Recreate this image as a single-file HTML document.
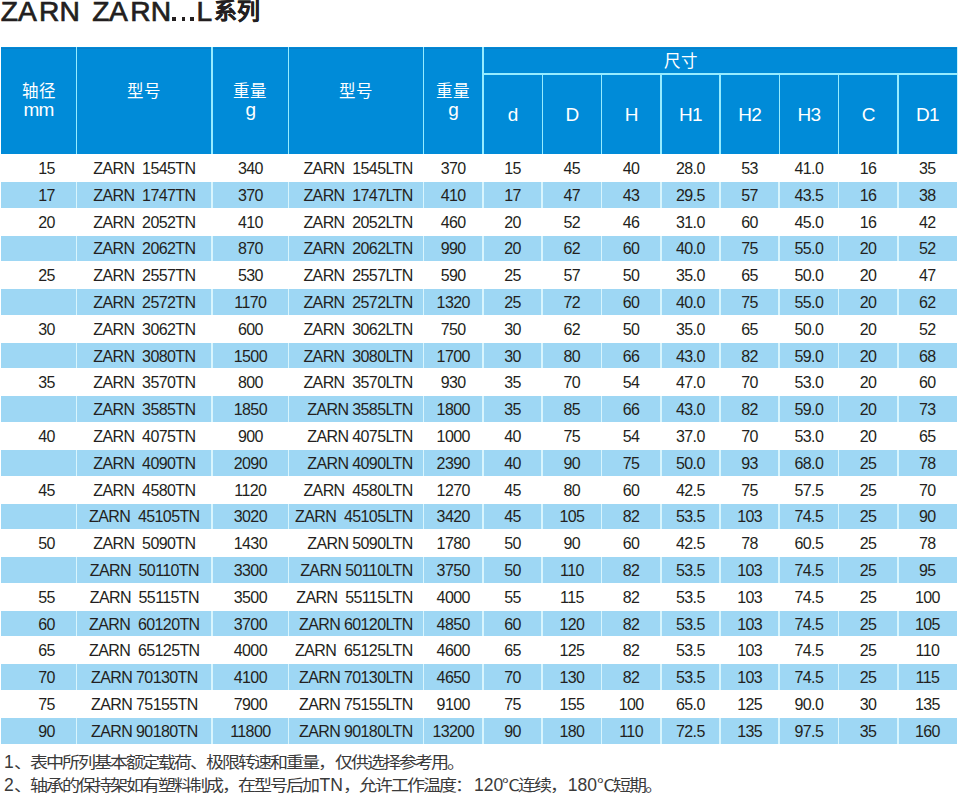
<!DOCTYPE html><html lang="zh-CN"><head><meta charset="utf-8"><style>
html,body{margin:0;padding:0;background:#fff;width:958px;height:793px;overflow:hidden;position:relative;}
*{box-sizing:border-box;}
div{position:absolute;}
.t{font-family:"Liberation Sans",sans-serif;white-space:pre;line-height:1;}
.d{font-size:16px;color:#231f20;letter-spacing:-0.6px;text-align:center;}
.h{font-size:19px;color:#fff;text-align:center;letter-spacing:-0.8px;}
.c{font-size:16.5px;color:#fff;text-align:center;}
</style></head><body>
<div class="t" style="left:0.8px;top:-3.5px;font-size:28.2px;color:#231f20;-webkit-text-stroke:0.7px #231f20;transform-origin:0 0;">Z</div>
<div class="t" style="left:18.0px;top:-3.5px;font-size:28.2px;color:#231f20;-webkit-text-stroke:0.7px #231f20;transform-origin:0 0;">A</div>
<div class="t" style="left:38.9px;top:-3.5px;font-size:28.2px;color:#231f20;-webkit-text-stroke:0.7px #231f20;transform-origin:0 0;">R</div>
<div class="t" style="left:59.4px;top:-3.5px;font-size:28.2px;color:#231f20;-webkit-text-stroke:0.7px #231f20;transform-origin:0 0;">N</div>
<div class="t" style="left:92.2px;top:-3.5px;font-size:28.2px;color:#231f20;-webkit-text-stroke:0.7px #231f20;transform-origin:0 0;">Z</div>
<div class="t" style="left:109.1px;top:-3.5px;font-size:28.2px;color:#231f20;-webkit-text-stroke:0.7px #231f20;transform-origin:0 0;">A</div>
<div class="t" style="left:130.2px;top:-3.5px;font-size:28.2px;color:#231f20;-webkit-text-stroke:0.7px #231f20;transform-origin:0 0;">R</div>
<div class="t" style="left:150.8px;top:-3.5px;font-size:28.2px;color:#231f20;-webkit-text-stroke:0.7px #231f20;transform-origin:0 0;">N</div>
<div style="left:172.3px;top:17.2px;width:3.7px;height:3.7px;background:#231f20"></div>
<div style="left:181.7px;top:17.2px;width:3.7px;height:3.7px;background:#231f20"></div>
<div style="left:190.0px;top:17.2px;width:3.7px;height:3.7px;background:#231f20"></div>
<div class="t" style="left:196.4px;top:-3.5px;font-size:28.2px;color:#231f20;-webkit-text-stroke:0.7px #231f20;transform-origin:0 0;">L</div>
<div class="t" style="left:213.8px;top:0.2px;font-size:23px;font-weight:bold;color:#231f20;-webkit-text-stroke:0.2px #231f20;">系列</div>
<div style="left:1.0px;top:47.3px;width:956.0px;height:106.7px;background:#008bd8"></div>
<div style="left:1.0px;top:48px;width:956.0px;height:1px;background:#0a7cc6"></div>
<div style="left:75.75px;top:47.3px;width:1.5px;height:106.7px;background:#96ecff"></div>
<div style="left:211.45px;top:47.3px;width:1.5px;height:106.7px;background:#96ecff"></div>
<div style="left:287.75px;top:47.3px;width:1.5px;height:106.7px;background:#96ecff"></div>
<div style="left:422.65px;top:47.3px;width:1.5px;height:106.7px;background:#96ecff"></div>
<div style="left:482.25px;top:47.3px;width:1.5px;height:106.7px;background:#96ecff"></div>
<div style="left:541.50px;top:73.8px;width:1.5px;height:80.2px;background:#96ecff"></div>
<div style="left:600.75px;top:73.8px;width:1.5px;height:80.2px;background:#96ecff"></div>
<div style="left:660.00px;top:73.8px;width:1.5px;height:80.2px;background:#96ecff"></div>
<div style="left:719.25px;top:73.8px;width:1.5px;height:80.2px;background:#96ecff"></div>
<div style="left:778.50px;top:73.8px;width:1.5px;height:80.2px;background:#96ecff"></div>
<div style="left:837.75px;top:73.8px;width:1.5px;height:80.2px;background:#96ecff"></div>
<div style="left:897.00px;top:73.8px;width:1.5px;height:80.2px;background:#96ecff"></div>
<div style="left:483.0px;top:73.0px;width:474.0px;height:1.5px;background:#96ecff"></div>
<div style="left:957px;top:47.3px;width:1px;height:106.7px;background:#c8f4ff"></div>
<div style="left:1.00px;top:182.00px;width:74.75px;height:25.60px;background:#9ed7f4"></div>
<div style="left:77.25px;top:182.00px;width:134.20px;height:25.60px;background:#9ed7f4"></div>
<div style="left:212.95px;top:182.00px;width:74.80px;height:25.60px;background:#9ed7f4"></div>
<div style="left:289.25px;top:182.00px;width:133.40px;height:25.60px;background:#9ed7f4"></div>
<div style="left:424.15px;top:182.00px;width:58.10px;height:25.60px;background:#9ed7f4"></div>
<div style="left:483.75px;top:182.00px;width:57.75px;height:25.60px;background:#9ed7f4"></div>
<div style="left:543.00px;top:182.00px;width:57.75px;height:25.60px;background:#9ed7f4"></div>
<div style="left:602.25px;top:182.00px;width:57.75px;height:25.60px;background:#9ed7f4"></div>
<div style="left:661.50px;top:182.00px;width:57.75px;height:25.60px;background:#9ed7f4"></div>
<div style="left:720.75px;top:182.00px;width:57.75px;height:25.60px;background:#9ed7f4"></div>
<div style="left:780.00px;top:182.00px;width:57.75px;height:25.60px;background:#9ed7f4"></div>
<div style="left:839.25px;top:182.00px;width:57.75px;height:25.60px;background:#9ed7f4"></div>
<div style="left:898.50px;top:182.00px;width:58.50px;height:25.60px;background:#9ed7f4"></div>
<div style="left:75.60px;top:182.00px;width:1.80px;height:25.60px;background:#d8f5fd"></div>
<div style="left:211.30px;top:182.00px;width:1.80px;height:25.60px;background:#d8f5fd"></div>
<div style="left:287.60px;top:182.00px;width:1.80px;height:25.60px;background:#d8f5fd"></div>
<div style="left:422.50px;top:182.00px;width:1.80px;height:25.60px;background:#d8f5fd"></div>
<div style="left:482.10px;top:182.00px;width:1.80px;height:25.60px;background:#d8f5fd"></div>
<div style="left:541.35px;top:182.00px;width:1.80px;height:25.60px;background:#d8f5fd"></div>
<div style="left:600.60px;top:182.00px;width:1.80px;height:25.60px;background:#d8f5fd"></div>
<div style="left:659.85px;top:182.00px;width:1.80px;height:25.60px;background:#d8f5fd"></div>
<div style="left:719.10px;top:182.00px;width:1.80px;height:25.60px;background:#d8f5fd"></div>
<div style="left:778.35px;top:182.00px;width:1.80px;height:25.60px;background:#d8f5fd"></div>
<div style="left:837.60px;top:182.00px;width:1.80px;height:25.60px;background:#d8f5fd"></div>
<div style="left:896.85px;top:182.00px;width:1.80px;height:25.60px;background:#d8f5fd"></div>
<div style="left:1.00px;top:235.60px;width:74.75px;height:25.60px;background:#9ed7f4"></div>
<div style="left:77.25px;top:235.60px;width:134.20px;height:25.60px;background:#9ed7f4"></div>
<div style="left:212.95px;top:235.60px;width:74.80px;height:25.60px;background:#9ed7f4"></div>
<div style="left:289.25px;top:235.60px;width:133.40px;height:25.60px;background:#9ed7f4"></div>
<div style="left:424.15px;top:235.60px;width:58.10px;height:25.60px;background:#9ed7f4"></div>
<div style="left:483.75px;top:235.60px;width:57.75px;height:25.60px;background:#9ed7f4"></div>
<div style="left:543.00px;top:235.60px;width:57.75px;height:25.60px;background:#9ed7f4"></div>
<div style="left:602.25px;top:235.60px;width:57.75px;height:25.60px;background:#9ed7f4"></div>
<div style="left:661.50px;top:235.60px;width:57.75px;height:25.60px;background:#9ed7f4"></div>
<div style="left:720.75px;top:235.60px;width:57.75px;height:25.60px;background:#9ed7f4"></div>
<div style="left:780.00px;top:235.60px;width:57.75px;height:25.60px;background:#9ed7f4"></div>
<div style="left:839.25px;top:235.60px;width:57.75px;height:25.60px;background:#9ed7f4"></div>
<div style="left:898.50px;top:235.60px;width:58.50px;height:25.60px;background:#9ed7f4"></div>
<div style="left:75.60px;top:235.60px;width:1.80px;height:25.60px;background:#d8f5fd"></div>
<div style="left:211.30px;top:235.60px;width:1.80px;height:25.60px;background:#d8f5fd"></div>
<div style="left:287.60px;top:235.60px;width:1.80px;height:25.60px;background:#d8f5fd"></div>
<div style="left:422.50px;top:235.60px;width:1.80px;height:25.60px;background:#d8f5fd"></div>
<div style="left:482.10px;top:235.60px;width:1.80px;height:25.60px;background:#d8f5fd"></div>
<div style="left:541.35px;top:235.60px;width:1.80px;height:25.60px;background:#d8f5fd"></div>
<div style="left:600.60px;top:235.60px;width:1.80px;height:25.60px;background:#d8f5fd"></div>
<div style="left:659.85px;top:235.60px;width:1.80px;height:25.60px;background:#d8f5fd"></div>
<div style="left:719.10px;top:235.60px;width:1.80px;height:25.60px;background:#d8f5fd"></div>
<div style="left:778.35px;top:235.60px;width:1.80px;height:25.60px;background:#d8f5fd"></div>
<div style="left:837.60px;top:235.60px;width:1.80px;height:25.60px;background:#d8f5fd"></div>
<div style="left:896.85px;top:235.60px;width:1.80px;height:25.60px;background:#d8f5fd"></div>
<div style="left:1.00px;top:289.20px;width:74.75px;height:25.60px;background:#9ed7f4"></div>
<div style="left:77.25px;top:289.20px;width:134.20px;height:25.60px;background:#9ed7f4"></div>
<div style="left:212.95px;top:289.20px;width:74.80px;height:25.60px;background:#9ed7f4"></div>
<div style="left:289.25px;top:289.20px;width:133.40px;height:25.60px;background:#9ed7f4"></div>
<div style="left:424.15px;top:289.20px;width:58.10px;height:25.60px;background:#9ed7f4"></div>
<div style="left:483.75px;top:289.20px;width:57.75px;height:25.60px;background:#9ed7f4"></div>
<div style="left:543.00px;top:289.20px;width:57.75px;height:25.60px;background:#9ed7f4"></div>
<div style="left:602.25px;top:289.20px;width:57.75px;height:25.60px;background:#9ed7f4"></div>
<div style="left:661.50px;top:289.20px;width:57.75px;height:25.60px;background:#9ed7f4"></div>
<div style="left:720.75px;top:289.20px;width:57.75px;height:25.60px;background:#9ed7f4"></div>
<div style="left:780.00px;top:289.20px;width:57.75px;height:25.60px;background:#9ed7f4"></div>
<div style="left:839.25px;top:289.20px;width:57.75px;height:25.60px;background:#9ed7f4"></div>
<div style="left:898.50px;top:289.20px;width:58.50px;height:25.60px;background:#9ed7f4"></div>
<div style="left:75.60px;top:289.20px;width:1.80px;height:25.60px;background:#d8f5fd"></div>
<div style="left:211.30px;top:289.20px;width:1.80px;height:25.60px;background:#d8f5fd"></div>
<div style="left:287.60px;top:289.20px;width:1.80px;height:25.60px;background:#d8f5fd"></div>
<div style="left:422.50px;top:289.20px;width:1.80px;height:25.60px;background:#d8f5fd"></div>
<div style="left:482.10px;top:289.20px;width:1.80px;height:25.60px;background:#d8f5fd"></div>
<div style="left:541.35px;top:289.20px;width:1.80px;height:25.60px;background:#d8f5fd"></div>
<div style="left:600.60px;top:289.20px;width:1.80px;height:25.60px;background:#d8f5fd"></div>
<div style="left:659.85px;top:289.20px;width:1.80px;height:25.60px;background:#d8f5fd"></div>
<div style="left:719.10px;top:289.20px;width:1.80px;height:25.60px;background:#d8f5fd"></div>
<div style="left:778.35px;top:289.20px;width:1.80px;height:25.60px;background:#d8f5fd"></div>
<div style="left:837.60px;top:289.20px;width:1.80px;height:25.60px;background:#d8f5fd"></div>
<div style="left:896.85px;top:289.20px;width:1.80px;height:25.60px;background:#d8f5fd"></div>
<div style="left:1.00px;top:342.80px;width:74.75px;height:25.60px;background:#9ed7f4"></div>
<div style="left:77.25px;top:342.80px;width:134.20px;height:25.60px;background:#9ed7f4"></div>
<div style="left:212.95px;top:342.80px;width:74.80px;height:25.60px;background:#9ed7f4"></div>
<div style="left:289.25px;top:342.80px;width:133.40px;height:25.60px;background:#9ed7f4"></div>
<div style="left:424.15px;top:342.80px;width:58.10px;height:25.60px;background:#9ed7f4"></div>
<div style="left:483.75px;top:342.80px;width:57.75px;height:25.60px;background:#9ed7f4"></div>
<div style="left:543.00px;top:342.80px;width:57.75px;height:25.60px;background:#9ed7f4"></div>
<div style="left:602.25px;top:342.80px;width:57.75px;height:25.60px;background:#9ed7f4"></div>
<div style="left:661.50px;top:342.80px;width:57.75px;height:25.60px;background:#9ed7f4"></div>
<div style="left:720.75px;top:342.80px;width:57.75px;height:25.60px;background:#9ed7f4"></div>
<div style="left:780.00px;top:342.80px;width:57.75px;height:25.60px;background:#9ed7f4"></div>
<div style="left:839.25px;top:342.80px;width:57.75px;height:25.60px;background:#9ed7f4"></div>
<div style="left:898.50px;top:342.80px;width:58.50px;height:25.60px;background:#9ed7f4"></div>
<div style="left:75.60px;top:342.80px;width:1.80px;height:25.60px;background:#d8f5fd"></div>
<div style="left:211.30px;top:342.80px;width:1.80px;height:25.60px;background:#d8f5fd"></div>
<div style="left:287.60px;top:342.80px;width:1.80px;height:25.60px;background:#d8f5fd"></div>
<div style="left:422.50px;top:342.80px;width:1.80px;height:25.60px;background:#d8f5fd"></div>
<div style="left:482.10px;top:342.80px;width:1.80px;height:25.60px;background:#d8f5fd"></div>
<div style="left:541.35px;top:342.80px;width:1.80px;height:25.60px;background:#d8f5fd"></div>
<div style="left:600.60px;top:342.80px;width:1.80px;height:25.60px;background:#d8f5fd"></div>
<div style="left:659.85px;top:342.80px;width:1.80px;height:25.60px;background:#d8f5fd"></div>
<div style="left:719.10px;top:342.80px;width:1.80px;height:25.60px;background:#d8f5fd"></div>
<div style="left:778.35px;top:342.80px;width:1.80px;height:25.60px;background:#d8f5fd"></div>
<div style="left:837.60px;top:342.80px;width:1.80px;height:25.60px;background:#d8f5fd"></div>
<div style="left:896.85px;top:342.80px;width:1.80px;height:25.60px;background:#d8f5fd"></div>
<div style="left:1.00px;top:396.40px;width:74.75px;height:25.60px;background:#9ed7f4"></div>
<div style="left:77.25px;top:396.40px;width:134.20px;height:25.60px;background:#9ed7f4"></div>
<div style="left:212.95px;top:396.40px;width:74.80px;height:25.60px;background:#9ed7f4"></div>
<div style="left:289.25px;top:396.40px;width:133.40px;height:25.60px;background:#9ed7f4"></div>
<div style="left:424.15px;top:396.40px;width:58.10px;height:25.60px;background:#9ed7f4"></div>
<div style="left:483.75px;top:396.40px;width:57.75px;height:25.60px;background:#9ed7f4"></div>
<div style="left:543.00px;top:396.40px;width:57.75px;height:25.60px;background:#9ed7f4"></div>
<div style="left:602.25px;top:396.40px;width:57.75px;height:25.60px;background:#9ed7f4"></div>
<div style="left:661.50px;top:396.40px;width:57.75px;height:25.60px;background:#9ed7f4"></div>
<div style="left:720.75px;top:396.40px;width:57.75px;height:25.60px;background:#9ed7f4"></div>
<div style="left:780.00px;top:396.40px;width:57.75px;height:25.60px;background:#9ed7f4"></div>
<div style="left:839.25px;top:396.40px;width:57.75px;height:25.60px;background:#9ed7f4"></div>
<div style="left:898.50px;top:396.40px;width:58.50px;height:25.60px;background:#9ed7f4"></div>
<div style="left:75.60px;top:396.40px;width:1.80px;height:25.60px;background:#d8f5fd"></div>
<div style="left:211.30px;top:396.40px;width:1.80px;height:25.60px;background:#d8f5fd"></div>
<div style="left:287.60px;top:396.40px;width:1.80px;height:25.60px;background:#d8f5fd"></div>
<div style="left:422.50px;top:396.40px;width:1.80px;height:25.60px;background:#d8f5fd"></div>
<div style="left:482.10px;top:396.40px;width:1.80px;height:25.60px;background:#d8f5fd"></div>
<div style="left:541.35px;top:396.40px;width:1.80px;height:25.60px;background:#d8f5fd"></div>
<div style="left:600.60px;top:396.40px;width:1.80px;height:25.60px;background:#d8f5fd"></div>
<div style="left:659.85px;top:396.40px;width:1.80px;height:25.60px;background:#d8f5fd"></div>
<div style="left:719.10px;top:396.40px;width:1.80px;height:25.60px;background:#d8f5fd"></div>
<div style="left:778.35px;top:396.40px;width:1.80px;height:25.60px;background:#d8f5fd"></div>
<div style="left:837.60px;top:396.40px;width:1.80px;height:25.60px;background:#d8f5fd"></div>
<div style="left:896.85px;top:396.40px;width:1.80px;height:25.60px;background:#d8f5fd"></div>
<div style="left:1.00px;top:450.00px;width:74.75px;height:25.60px;background:#9ed7f4"></div>
<div style="left:77.25px;top:450.00px;width:134.20px;height:25.60px;background:#9ed7f4"></div>
<div style="left:212.95px;top:450.00px;width:74.80px;height:25.60px;background:#9ed7f4"></div>
<div style="left:289.25px;top:450.00px;width:133.40px;height:25.60px;background:#9ed7f4"></div>
<div style="left:424.15px;top:450.00px;width:58.10px;height:25.60px;background:#9ed7f4"></div>
<div style="left:483.75px;top:450.00px;width:57.75px;height:25.60px;background:#9ed7f4"></div>
<div style="left:543.00px;top:450.00px;width:57.75px;height:25.60px;background:#9ed7f4"></div>
<div style="left:602.25px;top:450.00px;width:57.75px;height:25.60px;background:#9ed7f4"></div>
<div style="left:661.50px;top:450.00px;width:57.75px;height:25.60px;background:#9ed7f4"></div>
<div style="left:720.75px;top:450.00px;width:57.75px;height:25.60px;background:#9ed7f4"></div>
<div style="left:780.00px;top:450.00px;width:57.75px;height:25.60px;background:#9ed7f4"></div>
<div style="left:839.25px;top:450.00px;width:57.75px;height:25.60px;background:#9ed7f4"></div>
<div style="left:898.50px;top:450.00px;width:58.50px;height:25.60px;background:#9ed7f4"></div>
<div style="left:75.60px;top:450.00px;width:1.80px;height:25.60px;background:#d8f5fd"></div>
<div style="left:211.30px;top:450.00px;width:1.80px;height:25.60px;background:#d8f5fd"></div>
<div style="left:287.60px;top:450.00px;width:1.80px;height:25.60px;background:#d8f5fd"></div>
<div style="left:422.50px;top:450.00px;width:1.80px;height:25.60px;background:#d8f5fd"></div>
<div style="left:482.10px;top:450.00px;width:1.80px;height:25.60px;background:#d8f5fd"></div>
<div style="left:541.35px;top:450.00px;width:1.80px;height:25.60px;background:#d8f5fd"></div>
<div style="left:600.60px;top:450.00px;width:1.80px;height:25.60px;background:#d8f5fd"></div>
<div style="left:659.85px;top:450.00px;width:1.80px;height:25.60px;background:#d8f5fd"></div>
<div style="left:719.10px;top:450.00px;width:1.80px;height:25.60px;background:#d8f5fd"></div>
<div style="left:778.35px;top:450.00px;width:1.80px;height:25.60px;background:#d8f5fd"></div>
<div style="left:837.60px;top:450.00px;width:1.80px;height:25.60px;background:#d8f5fd"></div>
<div style="left:896.85px;top:450.00px;width:1.80px;height:25.60px;background:#d8f5fd"></div>
<div style="left:1.00px;top:503.60px;width:74.75px;height:25.60px;background:#9ed7f4"></div>
<div style="left:77.25px;top:503.60px;width:134.20px;height:25.60px;background:#9ed7f4"></div>
<div style="left:212.95px;top:503.60px;width:74.80px;height:25.60px;background:#9ed7f4"></div>
<div style="left:289.25px;top:503.60px;width:133.40px;height:25.60px;background:#9ed7f4"></div>
<div style="left:424.15px;top:503.60px;width:58.10px;height:25.60px;background:#9ed7f4"></div>
<div style="left:483.75px;top:503.60px;width:57.75px;height:25.60px;background:#9ed7f4"></div>
<div style="left:543.00px;top:503.60px;width:57.75px;height:25.60px;background:#9ed7f4"></div>
<div style="left:602.25px;top:503.60px;width:57.75px;height:25.60px;background:#9ed7f4"></div>
<div style="left:661.50px;top:503.60px;width:57.75px;height:25.60px;background:#9ed7f4"></div>
<div style="left:720.75px;top:503.60px;width:57.75px;height:25.60px;background:#9ed7f4"></div>
<div style="left:780.00px;top:503.60px;width:57.75px;height:25.60px;background:#9ed7f4"></div>
<div style="left:839.25px;top:503.60px;width:57.75px;height:25.60px;background:#9ed7f4"></div>
<div style="left:898.50px;top:503.60px;width:58.50px;height:25.60px;background:#9ed7f4"></div>
<div style="left:75.60px;top:503.60px;width:1.80px;height:25.60px;background:#d8f5fd"></div>
<div style="left:211.30px;top:503.60px;width:1.80px;height:25.60px;background:#d8f5fd"></div>
<div style="left:287.60px;top:503.60px;width:1.80px;height:25.60px;background:#d8f5fd"></div>
<div style="left:422.50px;top:503.60px;width:1.80px;height:25.60px;background:#d8f5fd"></div>
<div style="left:482.10px;top:503.60px;width:1.80px;height:25.60px;background:#d8f5fd"></div>
<div style="left:541.35px;top:503.60px;width:1.80px;height:25.60px;background:#d8f5fd"></div>
<div style="left:600.60px;top:503.60px;width:1.80px;height:25.60px;background:#d8f5fd"></div>
<div style="left:659.85px;top:503.60px;width:1.80px;height:25.60px;background:#d8f5fd"></div>
<div style="left:719.10px;top:503.60px;width:1.80px;height:25.60px;background:#d8f5fd"></div>
<div style="left:778.35px;top:503.60px;width:1.80px;height:25.60px;background:#d8f5fd"></div>
<div style="left:837.60px;top:503.60px;width:1.80px;height:25.60px;background:#d8f5fd"></div>
<div style="left:896.85px;top:503.60px;width:1.80px;height:25.60px;background:#d8f5fd"></div>
<div style="left:1.00px;top:557.20px;width:74.75px;height:25.60px;background:#9ed7f4"></div>
<div style="left:77.25px;top:557.20px;width:134.20px;height:25.60px;background:#9ed7f4"></div>
<div style="left:212.95px;top:557.20px;width:74.80px;height:25.60px;background:#9ed7f4"></div>
<div style="left:289.25px;top:557.20px;width:133.40px;height:25.60px;background:#9ed7f4"></div>
<div style="left:424.15px;top:557.20px;width:58.10px;height:25.60px;background:#9ed7f4"></div>
<div style="left:483.75px;top:557.20px;width:57.75px;height:25.60px;background:#9ed7f4"></div>
<div style="left:543.00px;top:557.20px;width:57.75px;height:25.60px;background:#9ed7f4"></div>
<div style="left:602.25px;top:557.20px;width:57.75px;height:25.60px;background:#9ed7f4"></div>
<div style="left:661.50px;top:557.20px;width:57.75px;height:25.60px;background:#9ed7f4"></div>
<div style="left:720.75px;top:557.20px;width:57.75px;height:25.60px;background:#9ed7f4"></div>
<div style="left:780.00px;top:557.20px;width:57.75px;height:25.60px;background:#9ed7f4"></div>
<div style="left:839.25px;top:557.20px;width:57.75px;height:25.60px;background:#9ed7f4"></div>
<div style="left:898.50px;top:557.20px;width:58.50px;height:25.60px;background:#9ed7f4"></div>
<div style="left:75.60px;top:557.20px;width:1.80px;height:25.60px;background:#d8f5fd"></div>
<div style="left:211.30px;top:557.20px;width:1.80px;height:25.60px;background:#d8f5fd"></div>
<div style="left:287.60px;top:557.20px;width:1.80px;height:25.60px;background:#d8f5fd"></div>
<div style="left:422.50px;top:557.20px;width:1.80px;height:25.60px;background:#d8f5fd"></div>
<div style="left:482.10px;top:557.20px;width:1.80px;height:25.60px;background:#d8f5fd"></div>
<div style="left:541.35px;top:557.20px;width:1.80px;height:25.60px;background:#d8f5fd"></div>
<div style="left:600.60px;top:557.20px;width:1.80px;height:25.60px;background:#d8f5fd"></div>
<div style="left:659.85px;top:557.20px;width:1.80px;height:25.60px;background:#d8f5fd"></div>
<div style="left:719.10px;top:557.20px;width:1.80px;height:25.60px;background:#d8f5fd"></div>
<div style="left:778.35px;top:557.20px;width:1.80px;height:25.60px;background:#d8f5fd"></div>
<div style="left:837.60px;top:557.20px;width:1.80px;height:25.60px;background:#d8f5fd"></div>
<div style="left:896.85px;top:557.20px;width:1.80px;height:25.60px;background:#d8f5fd"></div>
<div style="left:1.00px;top:610.80px;width:74.75px;height:25.60px;background:#9ed7f4"></div>
<div style="left:77.25px;top:610.80px;width:134.20px;height:25.60px;background:#9ed7f4"></div>
<div style="left:212.95px;top:610.80px;width:74.80px;height:25.60px;background:#9ed7f4"></div>
<div style="left:289.25px;top:610.80px;width:133.40px;height:25.60px;background:#9ed7f4"></div>
<div style="left:424.15px;top:610.80px;width:58.10px;height:25.60px;background:#9ed7f4"></div>
<div style="left:483.75px;top:610.80px;width:57.75px;height:25.60px;background:#9ed7f4"></div>
<div style="left:543.00px;top:610.80px;width:57.75px;height:25.60px;background:#9ed7f4"></div>
<div style="left:602.25px;top:610.80px;width:57.75px;height:25.60px;background:#9ed7f4"></div>
<div style="left:661.50px;top:610.80px;width:57.75px;height:25.60px;background:#9ed7f4"></div>
<div style="left:720.75px;top:610.80px;width:57.75px;height:25.60px;background:#9ed7f4"></div>
<div style="left:780.00px;top:610.80px;width:57.75px;height:25.60px;background:#9ed7f4"></div>
<div style="left:839.25px;top:610.80px;width:57.75px;height:25.60px;background:#9ed7f4"></div>
<div style="left:898.50px;top:610.80px;width:58.50px;height:25.60px;background:#9ed7f4"></div>
<div style="left:75.60px;top:610.80px;width:1.80px;height:25.60px;background:#d8f5fd"></div>
<div style="left:211.30px;top:610.80px;width:1.80px;height:25.60px;background:#d8f5fd"></div>
<div style="left:287.60px;top:610.80px;width:1.80px;height:25.60px;background:#d8f5fd"></div>
<div style="left:422.50px;top:610.80px;width:1.80px;height:25.60px;background:#d8f5fd"></div>
<div style="left:482.10px;top:610.80px;width:1.80px;height:25.60px;background:#d8f5fd"></div>
<div style="left:541.35px;top:610.80px;width:1.80px;height:25.60px;background:#d8f5fd"></div>
<div style="left:600.60px;top:610.80px;width:1.80px;height:25.60px;background:#d8f5fd"></div>
<div style="left:659.85px;top:610.80px;width:1.80px;height:25.60px;background:#d8f5fd"></div>
<div style="left:719.10px;top:610.80px;width:1.80px;height:25.60px;background:#d8f5fd"></div>
<div style="left:778.35px;top:610.80px;width:1.80px;height:25.60px;background:#d8f5fd"></div>
<div style="left:837.60px;top:610.80px;width:1.80px;height:25.60px;background:#d8f5fd"></div>
<div style="left:896.85px;top:610.80px;width:1.80px;height:25.60px;background:#d8f5fd"></div>
<div style="left:1.00px;top:664.40px;width:74.75px;height:25.60px;background:#9ed7f4"></div>
<div style="left:77.25px;top:664.40px;width:134.20px;height:25.60px;background:#9ed7f4"></div>
<div style="left:212.95px;top:664.40px;width:74.80px;height:25.60px;background:#9ed7f4"></div>
<div style="left:289.25px;top:664.40px;width:133.40px;height:25.60px;background:#9ed7f4"></div>
<div style="left:424.15px;top:664.40px;width:58.10px;height:25.60px;background:#9ed7f4"></div>
<div style="left:483.75px;top:664.40px;width:57.75px;height:25.60px;background:#9ed7f4"></div>
<div style="left:543.00px;top:664.40px;width:57.75px;height:25.60px;background:#9ed7f4"></div>
<div style="left:602.25px;top:664.40px;width:57.75px;height:25.60px;background:#9ed7f4"></div>
<div style="left:661.50px;top:664.40px;width:57.75px;height:25.60px;background:#9ed7f4"></div>
<div style="left:720.75px;top:664.40px;width:57.75px;height:25.60px;background:#9ed7f4"></div>
<div style="left:780.00px;top:664.40px;width:57.75px;height:25.60px;background:#9ed7f4"></div>
<div style="left:839.25px;top:664.40px;width:57.75px;height:25.60px;background:#9ed7f4"></div>
<div style="left:898.50px;top:664.40px;width:58.50px;height:25.60px;background:#9ed7f4"></div>
<div style="left:75.60px;top:664.40px;width:1.80px;height:25.60px;background:#d8f5fd"></div>
<div style="left:211.30px;top:664.40px;width:1.80px;height:25.60px;background:#d8f5fd"></div>
<div style="left:287.60px;top:664.40px;width:1.80px;height:25.60px;background:#d8f5fd"></div>
<div style="left:422.50px;top:664.40px;width:1.80px;height:25.60px;background:#d8f5fd"></div>
<div style="left:482.10px;top:664.40px;width:1.80px;height:25.60px;background:#d8f5fd"></div>
<div style="left:541.35px;top:664.40px;width:1.80px;height:25.60px;background:#d8f5fd"></div>
<div style="left:600.60px;top:664.40px;width:1.80px;height:25.60px;background:#d8f5fd"></div>
<div style="left:659.85px;top:664.40px;width:1.80px;height:25.60px;background:#d8f5fd"></div>
<div style="left:719.10px;top:664.40px;width:1.80px;height:25.60px;background:#d8f5fd"></div>
<div style="left:778.35px;top:664.40px;width:1.80px;height:25.60px;background:#d8f5fd"></div>
<div style="left:837.60px;top:664.40px;width:1.80px;height:25.60px;background:#d8f5fd"></div>
<div style="left:896.85px;top:664.40px;width:1.80px;height:25.60px;background:#d8f5fd"></div>
<div style="left:1.00px;top:718.00px;width:74.75px;height:25.60px;background:#9ed7f4"></div>
<div style="left:77.25px;top:718.00px;width:134.20px;height:25.60px;background:#9ed7f4"></div>
<div style="left:212.95px;top:718.00px;width:74.80px;height:25.60px;background:#9ed7f4"></div>
<div style="left:289.25px;top:718.00px;width:133.40px;height:25.60px;background:#9ed7f4"></div>
<div style="left:424.15px;top:718.00px;width:58.10px;height:25.60px;background:#9ed7f4"></div>
<div style="left:483.75px;top:718.00px;width:57.75px;height:25.60px;background:#9ed7f4"></div>
<div style="left:543.00px;top:718.00px;width:57.75px;height:25.60px;background:#9ed7f4"></div>
<div style="left:602.25px;top:718.00px;width:57.75px;height:25.60px;background:#9ed7f4"></div>
<div style="left:661.50px;top:718.00px;width:57.75px;height:25.60px;background:#9ed7f4"></div>
<div style="left:720.75px;top:718.00px;width:57.75px;height:25.60px;background:#9ed7f4"></div>
<div style="left:780.00px;top:718.00px;width:57.75px;height:25.60px;background:#9ed7f4"></div>
<div style="left:839.25px;top:718.00px;width:57.75px;height:25.60px;background:#9ed7f4"></div>
<div style="left:898.50px;top:718.00px;width:58.50px;height:25.60px;background:#9ed7f4"></div>
<div style="left:75.60px;top:718.00px;width:1.80px;height:25.60px;background:#d8f5fd"></div>
<div style="left:211.30px;top:718.00px;width:1.80px;height:25.60px;background:#d8f5fd"></div>
<div style="left:287.60px;top:718.00px;width:1.80px;height:25.60px;background:#d8f5fd"></div>
<div style="left:422.50px;top:718.00px;width:1.80px;height:25.60px;background:#d8f5fd"></div>
<div style="left:482.10px;top:718.00px;width:1.80px;height:25.60px;background:#d8f5fd"></div>
<div style="left:541.35px;top:718.00px;width:1.80px;height:25.60px;background:#d8f5fd"></div>
<div style="left:600.60px;top:718.00px;width:1.80px;height:25.60px;background:#d8f5fd"></div>
<div style="left:659.85px;top:718.00px;width:1.80px;height:25.60px;background:#d8f5fd"></div>
<div style="left:719.10px;top:718.00px;width:1.80px;height:25.60px;background:#d8f5fd"></div>
<div style="left:778.35px;top:718.00px;width:1.80px;height:25.60px;background:#d8f5fd"></div>
<div style="left:837.60px;top:718.00px;width:1.80px;height:25.60px;background:#d8f5fd"></div>
<div style="left:896.85px;top:718.00px;width:1.80px;height:25.60px;background:#d8f5fd"></div>
<div class="t c" style="left:38.50px;top:82.50px;width:200px;margin-left:-100px;">轴径</div>
<div class="t h" style="left:38.50px;top:100.30px;width:200px;margin-left:-100px;">mm</div>
<div class="t c" style="left:144.35px;top:82.50px;width:200px;margin-left:-100px;">型号</div>
<div class="t c" style="left:250.35px;top:82.50px;width:200px;margin-left:-100px;">重量</div>
<div class="t h" style="left:250.35px;top:100.00px;width:200px;margin-left:-100px;">g</div>
<div class="t c" style="left:355.95px;top:82.50px;width:200px;margin-left:-100px;">型号</div>
<div class="t c" style="left:453.20px;top:82.50px;width:200px;margin-left:-100px;">重量</div>
<div class="t h" style="left:453.20px;top:100.00px;width:200px;margin-left:-100px;">g</div>
<div class="t c" style="left:681.00px;top:53.00px;width:200px;margin-left:-100px;">尺寸</div>
<div class="t h" style="left:512.62px;top:105.00px;width:200px;margin-left:-100px;">d</div>
<div class="t h" style="left:571.88px;top:105.00px;width:200px;margin-left:-100px;">D</div>
<div class="t h" style="left:631.12px;top:105.00px;width:200px;margin-left:-100px;">H</div>
<div class="t h" style="left:690.38px;top:105.00px;width:200px;margin-left:-100px;">H1</div>
<div class="t h" style="left:749.62px;top:105.00px;width:200px;margin-left:-100px;">H2</div>
<div class="t h" style="left:808.88px;top:105.00px;width:200px;margin-left:-100px;">H3</div>
<div class="t h" style="left:868.12px;top:105.00px;width:200px;margin-left:-100px;">C</div>
<div class="t h" style="left:927.38px;top:105.00px;width:200px;margin-left:-100px;">D1</div>
<div class="t d" style="left:46.50px;top:161.00px;width:200px;margin-left:-100px;">15</div>
<div class="t d" style="left:144.35px;top:161.00px;width:200px;margin-left:-100px;">ZARN  1545TN</div>
<div class="t d" style="left:250.35px;top:161.00px;width:200px;margin-left:-100px;">340</div>
<div class="t d" style="left:212.7px;top:161.00px;width:200px;text-align:right">ZARN  1545LTN</div>
<div class="t d" style="left:453.20px;top:161.00px;width:200px;margin-left:-100px;">370</div>
<div class="t d" style="left:512.62px;top:161.00px;width:200px;margin-left:-100px;">15</div>
<div class="t d" style="left:571.88px;top:161.00px;width:200px;margin-left:-100px;">45</div>
<div class="t d" style="left:631.12px;top:161.00px;width:200px;margin-left:-100px;">40</div>
<div class="t d" style="left:690.38px;top:161.00px;width:200px;margin-left:-100px;">28.0</div>
<div class="t d" style="left:749.62px;top:161.00px;width:200px;margin-left:-100px;">53</div>
<div class="t d" style="left:808.88px;top:161.00px;width:200px;margin-left:-100px;">41.0</div>
<div class="t d" style="left:868.12px;top:161.00px;width:200px;margin-left:-100px;">16</div>
<div class="t d" style="left:927.38px;top:161.00px;width:200px;margin-left:-100px;">35</div>
<div class="t d" style="left:46.50px;top:187.80px;width:200px;margin-left:-100px;">17</div>
<div class="t d" style="left:144.35px;top:187.80px;width:200px;margin-left:-100px;">ZARN  1747TN</div>
<div class="t d" style="left:250.35px;top:187.80px;width:200px;margin-left:-100px;">370</div>
<div class="t d" style="left:212.7px;top:187.80px;width:200px;text-align:right">ZARN  1747LTN</div>
<div class="t d" style="left:453.20px;top:187.80px;width:200px;margin-left:-100px;">410</div>
<div class="t d" style="left:512.62px;top:187.80px;width:200px;margin-left:-100px;">17</div>
<div class="t d" style="left:571.88px;top:187.80px;width:200px;margin-left:-100px;">47</div>
<div class="t d" style="left:631.12px;top:187.80px;width:200px;margin-left:-100px;">43</div>
<div class="t d" style="left:690.38px;top:187.80px;width:200px;margin-left:-100px;">29.5</div>
<div class="t d" style="left:749.62px;top:187.80px;width:200px;margin-left:-100px;">57</div>
<div class="t d" style="left:808.88px;top:187.80px;width:200px;margin-left:-100px;">43.5</div>
<div class="t d" style="left:868.12px;top:187.80px;width:200px;margin-left:-100px;">16</div>
<div class="t d" style="left:927.38px;top:187.80px;width:200px;margin-left:-100px;">38</div>
<div class="t d" style="left:46.50px;top:214.60px;width:200px;margin-left:-100px;">20</div>
<div class="t d" style="left:144.35px;top:214.60px;width:200px;margin-left:-100px;">ZARN  2052TN</div>
<div class="t d" style="left:250.35px;top:214.60px;width:200px;margin-left:-100px;">410</div>
<div class="t d" style="left:212.7px;top:214.60px;width:200px;text-align:right">ZARN  2052LTN</div>
<div class="t d" style="left:453.20px;top:214.60px;width:200px;margin-left:-100px;">460</div>
<div class="t d" style="left:512.62px;top:214.60px;width:200px;margin-left:-100px;">20</div>
<div class="t d" style="left:571.88px;top:214.60px;width:200px;margin-left:-100px;">52</div>
<div class="t d" style="left:631.12px;top:214.60px;width:200px;margin-left:-100px;">46</div>
<div class="t d" style="left:690.38px;top:214.60px;width:200px;margin-left:-100px;">31.0</div>
<div class="t d" style="left:749.62px;top:214.60px;width:200px;margin-left:-100px;">60</div>
<div class="t d" style="left:808.88px;top:214.60px;width:200px;margin-left:-100px;">45.0</div>
<div class="t d" style="left:868.12px;top:214.60px;width:200px;margin-left:-100px;">16</div>
<div class="t d" style="left:927.38px;top:214.60px;width:200px;margin-left:-100px;">42</div>
<div class="t d" style="left:144.35px;top:241.40px;width:200px;margin-left:-100px;">ZARN  2062TN</div>
<div class="t d" style="left:250.35px;top:241.40px;width:200px;margin-left:-100px;">870</div>
<div class="t d" style="left:212.7px;top:241.40px;width:200px;text-align:right">ZARN  2062LTN</div>
<div class="t d" style="left:453.20px;top:241.40px;width:200px;margin-left:-100px;">990</div>
<div class="t d" style="left:512.62px;top:241.40px;width:200px;margin-left:-100px;">20</div>
<div class="t d" style="left:571.88px;top:241.40px;width:200px;margin-left:-100px;">62</div>
<div class="t d" style="left:631.12px;top:241.40px;width:200px;margin-left:-100px;">60</div>
<div class="t d" style="left:690.38px;top:241.40px;width:200px;margin-left:-100px;">40.0</div>
<div class="t d" style="left:749.62px;top:241.40px;width:200px;margin-left:-100px;">75</div>
<div class="t d" style="left:808.88px;top:241.40px;width:200px;margin-left:-100px;">55.0</div>
<div class="t d" style="left:868.12px;top:241.40px;width:200px;margin-left:-100px;">20</div>
<div class="t d" style="left:927.38px;top:241.40px;width:200px;margin-left:-100px;">52</div>
<div class="t d" style="left:46.50px;top:268.20px;width:200px;margin-left:-100px;">25</div>
<div class="t d" style="left:144.35px;top:268.20px;width:200px;margin-left:-100px;">ZARN  2557TN</div>
<div class="t d" style="left:250.35px;top:268.20px;width:200px;margin-left:-100px;">530</div>
<div class="t d" style="left:212.7px;top:268.20px;width:200px;text-align:right">ZARN  2557LTN</div>
<div class="t d" style="left:453.20px;top:268.20px;width:200px;margin-left:-100px;">590</div>
<div class="t d" style="left:512.62px;top:268.20px;width:200px;margin-left:-100px;">25</div>
<div class="t d" style="left:571.88px;top:268.20px;width:200px;margin-left:-100px;">57</div>
<div class="t d" style="left:631.12px;top:268.20px;width:200px;margin-left:-100px;">50</div>
<div class="t d" style="left:690.38px;top:268.20px;width:200px;margin-left:-100px;">35.0</div>
<div class="t d" style="left:749.62px;top:268.20px;width:200px;margin-left:-100px;">65</div>
<div class="t d" style="left:808.88px;top:268.20px;width:200px;margin-left:-100px;">50.0</div>
<div class="t d" style="left:868.12px;top:268.20px;width:200px;margin-left:-100px;">20</div>
<div class="t d" style="left:927.38px;top:268.20px;width:200px;margin-left:-100px;">47</div>
<div class="t d" style="left:144.35px;top:295.00px;width:200px;margin-left:-100px;">ZARN  2572TN</div>
<div class="t d" style="left:250.35px;top:295.00px;width:200px;margin-left:-100px;">1170</div>
<div class="t d" style="left:212.7px;top:295.00px;width:200px;text-align:right">ZARN  2572LTN</div>
<div class="t d" style="left:453.20px;top:295.00px;width:200px;margin-left:-100px;">1320</div>
<div class="t d" style="left:512.62px;top:295.00px;width:200px;margin-left:-100px;">25</div>
<div class="t d" style="left:571.88px;top:295.00px;width:200px;margin-left:-100px;">72</div>
<div class="t d" style="left:631.12px;top:295.00px;width:200px;margin-left:-100px;">60</div>
<div class="t d" style="left:690.38px;top:295.00px;width:200px;margin-left:-100px;">40.0</div>
<div class="t d" style="left:749.62px;top:295.00px;width:200px;margin-left:-100px;">75</div>
<div class="t d" style="left:808.88px;top:295.00px;width:200px;margin-left:-100px;">55.0</div>
<div class="t d" style="left:868.12px;top:295.00px;width:200px;margin-left:-100px;">20</div>
<div class="t d" style="left:927.38px;top:295.00px;width:200px;margin-left:-100px;">62</div>
<div class="t d" style="left:46.50px;top:321.80px;width:200px;margin-left:-100px;">30</div>
<div class="t d" style="left:144.35px;top:321.80px;width:200px;margin-left:-100px;">ZARN  3062TN</div>
<div class="t d" style="left:250.35px;top:321.80px;width:200px;margin-left:-100px;">600</div>
<div class="t d" style="left:212.7px;top:321.80px;width:200px;text-align:right">ZARN  3062LTN</div>
<div class="t d" style="left:453.20px;top:321.80px;width:200px;margin-left:-100px;">750</div>
<div class="t d" style="left:512.62px;top:321.80px;width:200px;margin-left:-100px;">30</div>
<div class="t d" style="left:571.88px;top:321.80px;width:200px;margin-left:-100px;">62</div>
<div class="t d" style="left:631.12px;top:321.80px;width:200px;margin-left:-100px;">50</div>
<div class="t d" style="left:690.38px;top:321.80px;width:200px;margin-left:-100px;">35.0</div>
<div class="t d" style="left:749.62px;top:321.80px;width:200px;margin-left:-100px;">65</div>
<div class="t d" style="left:808.88px;top:321.80px;width:200px;margin-left:-100px;">50.0</div>
<div class="t d" style="left:868.12px;top:321.80px;width:200px;margin-left:-100px;">20</div>
<div class="t d" style="left:927.38px;top:321.80px;width:200px;margin-left:-100px;">52</div>
<div class="t d" style="left:144.35px;top:348.60px;width:200px;margin-left:-100px;">ZARN  3080TN</div>
<div class="t d" style="left:250.35px;top:348.60px;width:200px;margin-left:-100px;">1500</div>
<div class="t d" style="left:212.7px;top:348.60px;width:200px;text-align:right">ZARN  3080LTN</div>
<div class="t d" style="left:453.20px;top:348.60px;width:200px;margin-left:-100px;">1700</div>
<div class="t d" style="left:512.62px;top:348.60px;width:200px;margin-left:-100px;">30</div>
<div class="t d" style="left:571.88px;top:348.60px;width:200px;margin-left:-100px;">80</div>
<div class="t d" style="left:631.12px;top:348.60px;width:200px;margin-left:-100px;">66</div>
<div class="t d" style="left:690.38px;top:348.60px;width:200px;margin-left:-100px;">43.0</div>
<div class="t d" style="left:749.62px;top:348.60px;width:200px;margin-left:-100px;">82</div>
<div class="t d" style="left:808.88px;top:348.60px;width:200px;margin-left:-100px;">59.0</div>
<div class="t d" style="left:868.12px;top:348.60px;width:200px;margin-left:-100px;">20</div>
<div class="t d" style="left:927.38px;top:348.60px;width:200px;margin-left:-100px;">68</div>
<div class="t d" style="left:46.50px;top:375.40px;width:200px;margin-left:-100px;">35</div>
<div class="t d" style="left:144.35px;top:375.40px;width:200px;margin-left:-100px;">ZARN  3570TN</div>
<div class="t d" style="left:250.35px;top:375.40px;width:200px;margin-left:-100px;">800</div>
<div class="t d" style="left:212.7px;top:375.40px;width:200px;text-align:right">ZARN  3570LTN</div>
<div class="t d" style="left:453.20px;top:375.40px;width:200px;margin-left:-100px;">930</div>
<div class="t d" style="left:512.62px;top:375.40px;width:200px;margin-left:-100px;">35</div>
<div class="t d" style="left:571.88px;top:375.40px;width:200px;margin-left:-100px;">70</div>
<div class="t d" style="left:631.12px;top:375.40px;width:200px;margin-left:-100px;">54</div>
<div class="t d" style="left:690.38px;top:375.40px;width:200px;margin-left:-100px;">47.0</div>
<div class="t d" style="left:749.62px;top:375.40px;width:200px;margin-left:-100px;">70</div>
<div class="t d" style="left:808.88px;top:375.40px;width:200px;margin-left:-100px;">53.0</div>
<div class="t d" style="left:868.12px;top:375.40px;width:200px;margin-left:-100px;">20</div>
<div class="t d" style="left:927.38px;top:375.40px;width:200px;margin-left:-100px;">60</div>
<div class="t d" style="left:144.35px;top:402.20px;width:200px;margin-left:-100px;">ZARN  3585TN</div>
<div class="t d" style="left:250.35px;top:402.20px;width:200px;margin-left:-100px;">1850</div>
<div class="t d" style="left:212.7px;top:402.20px;width:200px;text-align:right">ZARN 3585LTN</div>
<div class="t d" style="left:453.20px;top:402.20px;width:200px;margin-left:-100px;">1800</div>
<div class="t d" style="left:512.62px;top:402.20px;width:200px;margin-left:-100px;">35</div>
<div class="t d" style="left:571.88px;top:402.20px;width:200px;margin-left:-100px;">85</div>
<div class="t d" style="left:631.12px;top:402.20px;width:200px;margin-left:-100px;">66</div>
<div class="t d" style="left:690.38px;top:402.20px;width:200px;margin-left:-100px;">43.0</div>
<div class="t d" style="left:749.62px;top:402.20px;width:200px;margin-left:-100px;">82</div>
<div class="t d" style="left:808.88px;top:402.20px;width:200px;margin-left:-100px;">59.0</div>
<div class="t d" style="left:868.12px;top:402.20px;width:200px;margin-left:-100px;">20</div>
<div class="t d" style="left:927.38px;top:402.20px;width:200px;margin-left:-100px;">73</div>
<div class="t d" style="left:46.50px;top:429.00px;width:200px;margin-left:-100px;">40</div>
<div class="t d" style="left:144.35px;top:429.00px;width:200px;margin-left:-100px;">ZARN  4075TN</div>
<div class="t d" style="left:250.35px;top:429.00px;width:200px;margin-left:-100px;">900</div>
<div class="t d" style="left:212.7px;top:429.00px;width:200px;text-align:right">ZARN 4075LTN</div>
<div class="t d" style="left:453.20px;top:429.00px;width:200px;margin-left:-100px;">1000</div>
<div class="t d" style="left:512.62px;top:429.00px;width:200px;margin-left:-100px;">40</div>
<div class="t d" style="left:571.88px;top:429.00px;width:200px;margin-left:-100px;">75</div>
<div class="t d" style="left:631.12px;top:429.00px;width:200px;margin-left:-100px;">54</div>
<div class="t d" style="left:690.38px;top:429.00px;width:200px;margin-left:-100px;">37.0</div>
<div class="t d" style="left:749.62px;top:429.00px;width:200px;margin-left:-100px;">70</div>
<div class="t d" style="left:808.88px;top:429.00px;width:200px;margin-left:-100px;">53.0</div>
<div class="t d" style="left:868.12px;top:429.00px;width:200px;margin-left:-100px;">20</div>
<div class="t d" style="left:927.38px;top:429.00px;width:200px;margin-left:-100px;">65</div>
<div class="t d" style="left:144.35px;top:455.80px;width:200px;margin-left:-100px;">ZARN  4090TN</div>
<div class="t d" style="left:250.35px;top:455.80px;width:200px;margin-left:-100px;">2090</div>
<div class="t d" style="left:212.7px;top:455.80px;width:200px;text-align:right">ZARN 4090LTN</div>
<div class="t d" style="left:453.20px;top:455.80px;width:200px;margin-left:-100px;">2390</div>
<div class="t d" style="left:512.62px;top:455.80px;width:200px;margin-left:-100px;">40</div>
<div class="t d" style="left:571.88px;top:455.80px;width:200px;margin-left:-100px;">90</div>
<div class="t d" style="left:631.12px;top:455.80px;width:200px;margin-left:-100px;">75</div>
<div class="t d" style="left:690.38px;top:455.80px;width:200px;margin-left:-100px;">50.0</div>
<div class="t d" style="left:749.62px;top:455.80px;width:200px;margin-left:-100px;">93</div>
<div class="t d" style="left:808.88px;top:455.80px;width:200px;margin-left:-100px;">68.0</div>
<div class="t d" style="left:868.12px;top:455.80px;width:200px;margin-left:-100px;">25</div>
<div class="t d" style="left:927.38px;top:455.80px;width:200px;margin-left:-100px;">78</div>
<div class="t d" style="left:46.50px;top:482.60px;width:200px;margin-left:-100px;">45</div>
<div class="t d" style="left:144.35px;top:482.60px;width:200px;margin-left:-100px;">ZARN  4580TN</div>
<div class="t d" style="left:250.35px;top:482.60px;width:200px;margin-left:-100px;">1120</div>
<div class="t d" style="left:212.7px;top:482.60px;width:200px;text-align:right">ZARN  4580LTN</div>
<div class="t d" style="left:453.20px;top:482.60px;width:200px;margin-left:-100px;">1270</div>
<div class="t d" style="left:512.62px;top:482.60px;width:200px;margin-left:-100px;">45</div>
<div class="t d" style="left:571.88px;top:482.60px;width:200px;margin-left:-100px;">80</div>
<div class="t d" style="left:631.12px;top:482.60px;width:200px;margin-left:-100px;">60</div>
<div class="t d" style="left:690.38px;top:482.60px;width:200px;margin-left:-100px;">42.5</div>
<div class="t d" style="left:749.62px;top:482.60px;width:200px;margin-left:-100px;">75</div>
<div class="t d" style="left:808.88px;top:482.60px;width:200px;margin-left:-100px;">57.5</div>
<div class="t d" style="left:868.12px;top:482.60px;width:200px;margin-left:-100px;">25</div>
<div class="t d" style="left:927.38px;top:482.60px;width:200px;margin-left:-100px;">70</div>
<div class="t d" style="left:144.35px;top:509.40px;width:200px;margin-left:-100px;">ZARN  45105TN</div>
<div class="t d" style="left:250.35px;top:509.40px;width:200px;margin-left:-100px;">3020</div>
<div class="t d" style="left:212.7px;top:509.40px;width:200px;text-align:right">ZARN  45105LTN</div>
<div class="t d" style="left:453.20px;top:509.40px;width:200px;margin-left:-100px;">3420</div>
<div class="t d" style="left:512.62px;top:509.40px;width:200px;margin-left:-100px;">45</div>
<div class="t d" style="left:571.88px;top:509.40px;width:200px;margin-left:-100px;">105</div>
<div class="t d" style="left:631.12px;top:509.40px;width:200px;margin-left:-100px;">82</div>
<div class="t d" style="left:690.38px;top:509.40px;width:200px;margin-left:-100px;">53.5</div>
<div class="t d" style="left:749.62px;top:509.40px;width:200px;margin-left:-100px;">103</div>
<div class="t d" style="left:808.88px;top:509.40px;width:200px;margin-left:-100px;">74.5</div>
<div class="t d" style="left:868.12px;top:509.40px;width:200px;margin-left:-100px;">25</div>
<div class="t d" style="left:927.38px;top:509.40px;width:200px;margin-left:-100px;">90</div>
<div class="t d" style="left:46.50px;top:536.20px;width:200px;margin-left:-100px;">50</div>
<div class="t d" style="left:144.35px;top:536.20px;width:200px;margin-left:-100px;">ZARN  5090TN</div>
<div class="t d" style="left:250.35px;top:536.20px;width:200px;margin-left:-100px;">1430</div>
<div class="t d" style="left:212.7px;top:536.20px;width:200px;text-align:right">ZARN 5090LTN</div>
<div class="t d" style="left:453.20px;top:536.20px;width:200px;margin-left:-100px;">1780</div>
<div class="t d" style="left:512.62px;top:536.20px;width:200px;margin-left:-100px;">50</div>
<div class="t d" style="left:571.88px;top:536.20px;width:200px;margin-left:-100px;">90</div>
<div class="t d" style="left:631.12px;top:536.20px;width:200px;margin-left:-100px;">60</div>
<div class="t d" style="left:690.38px;top:536.20px;width:200px;margin-left:-100px;">42.5</div>
<div class="t d" style="left:749.62px;top:536.20px;width:200px;margin-left:-100px;">78</div>
<div class="t d" style="left:808.88px;top:536.20px;width:200px;margin-left:-100px;">60.5</div>
<div class="t d" style="left:868.12px;top:536.20px;width:200px;margin-left:-100px;">25</div>
<div class="t d" style="left:927.38px;top:536.20px;width:200px;margin-left:-100px;">78</div>
<div class="t d" style="left:144.35px;top:563.00px;width:200px;margin-left:-100px;">ZARN  50110TN</div>
<div class="t d" style="left:250.35px;top:563.00px;width:200px;margin-left:-100px;">3300</div>
<div class="t d" style="left:212.7px;top:563.00px;width:200px;text-align:right">ZARN 50110LTN</div>
<div class="t d" style="left:453.20px;top:563.00px;width:200px;margin-left:-100px;">3750</div>
<div class="t d" style="left:512.62px;top:563.00px;width:200px;margin-left:-100px;">50</div>
<div class="t d" style="left:571.88px;top:563.00px;width:200px;margin-left:-100px;">110</div>
<div class="t d" style="left:631.12px;top:563.00px;width:200px;margin-left:-100px;">82</div>
<div class="t d" style="left:690.38px;top:563.00px;width:200px;margin-left:-100px;">53.5</div>
<div class="t d" style="left:749.62px;top:563.00px;width:200px;margin-left:-100px;">103</div>
<div class="t d" style="left:808.88px;top:563.00px;width:200px;margin-left:-100px;">74.5</div>
<div class="t d" style="left:868.12px;top:563.00px;width:200px;margin-left:-100px;">25</div>
<div class="t d" style="left:927.38px;top:563.00px;width:200px;margin-left:-100px;">95</div>
<div class="t d" style="left:46.50px;top:589.80px;width:200px;margin-left:-100px;">55</div>
<div class="t d" style="left:144.35px;top:589.80px;width:200px;margin-left:-100px;">ZARN  55115TN</div>
<div class="t d" style="left:250.35px;top:589.80px;width:200px;margin-left:-100px;">3500</div>
<div class="t d" style="left:212.7px;top:589.80px;width:200px;text-align:right">ZARN  55115LTN</div>
<div class="t d" style="left:453.20px;top:589.80px;width:200px;margin-left:-100px;">4000</div>
<div class="t d" style="left:512.62px;top:589.80px;width:200px;margin-left:-100px;">55</div>
<div class="t d" style="left:571.88px;top:589.80px;width:200px;margin-left:-100px;">115</div>
<div class="t d" style="left:631.12px;top:589.80px;width:200px;margin-left:-100px;">82</div>
<div class="t d" style="left:690.38px;top:589.80px;width:200px;margin-left:-100px;">53.5</div>
<div class="t d" style="left:749.62px;top:589.80px;width:200px;margin-left:-100px;">103</div>
<div class="t d" style="left:808.88px;top:589.80px;width:200px;margin-left:-100px;">74.5</div>
<div class="t d" style="left:868.12px;top:589.80px;width:200px;margin-left:-100px;">25</div>
<div class="t d" style="left:927.38px;top:589.80px;width:200px;margin-left:-100px;">100</div>
<div class="t d" style="left:46.50px;top:616.60px;width:200px;margin-left:-100px;">60</div>
<div class="t d" style="left:144.35px;top:616.60px;width:200px;margin-left:-100px;">ZARN  60120TN</div>
<div class="t d" style="left:250.35px;top:616.60px;width:200px;margin-left:-100px;">3700</div>
<div class="t d" style="left:212.7px;top:616.60px;width:200px;text-align:right">ZARN 60120LTN</div>
<div class="t d" style="left:453.20px;top:616.60px;width:200px;margin-left:-100px;">4850</div>
<div class="t d" style="left:512.62px;top:616.60px;width:200px;margin-left:-100px;">60</div>
<div class="t d" style="left:571.88px;top:616.60px;width:200px;margin-left:-100px;">120</div>
<div class="t d" style="left:631.12px;top:616.60px;width:200px;margin-left:-100px;">82</div>
<div class="t d" style="left:690.38px;top:616.60px;width:200px;margin-left:-100px;">53.5</div>
<div class="t d" style="left:749.62px;top:616.60px;width:200px;margin-left:-100px;">103</div>
<div class="t d" style="left:808.88px;top:616.60px;width:200px;margin-left:-100px;">74.5</div>
<div class="t d" style="left:868.12px;top:616.60px;width:200px;margin-left:-100px;">25</div>
<div class="t d" style="left:927.38px;top:616.60px;width:200px;margin-left:-100px;">105</div>
<div class="t d" style="left:46.50px;top:643.40px;width:200px;margin-left:-100px;">65</div>
<div class="t d" style="left:144.35px;top:643.40px;width:200px;margin-left:-100px;">ZARN  65125TN</div>
<div class="t d" style="left:250.35px;top:643.40px;width:200px;margin-left:-100px;">4000</div>
<div class="t d" style="left:212.7px;top:643.40px;width:200px;text-align:right">ZARN  65125LTN</div>
<div class="t d" style="left:453.20px;top:643.40px;width:200px;margin-left:-100px;">4600</div>
<div class="t d" style="left:512.62px;top:643.40px;width:200px;margin-left:-100px;">65</div>
<div class="t d" style="left:571.88px;top:643.40px;width:200px;margin-left:-100px;">125</div>
<div class="t d" style="left:631.12px;top:643.40px;width:200px;margin-left:-100px;">82</div>
<div class="t d" style="left:690.38px;top:643.40px;width:200px;margin-left:-100px;">53.5</div>
<div class="t d" style="left:749.62px;top:643.40px;width:200px;margin-left:-100px;">103</div>
<div class="t d" style="left:808.88px;top:643.40px;width:200px;margin-left:-100px;">74.5</div>
<div class="t d" style="left:868.12px;top:643.40px;width:200px;margin-left:-100px;">25</div>
<div class="t d" style="left:927.38px;top:643.40px;width:200px;margin-left:-100px;">110</div>
<div class="t d" style="left:46.50px;top:670.20px;width:200px;margin-left:-100px;">70</div>
<div class="t d" style="left:144.35px;top:670.20px;width:200px;margin-left:-100px;">ZARN 70130TN</div>
<div class="t d" style="left:250.35px;top:670.20px;width:200px;margin-left:-100px;">4100</div>
<div class="t d" style="left:212.7px;top:670.20px;width:200px;text-align:right">ZARN 70130LTN</div>
<div class="t d" style="left:453.20px;top:670.20px;width:200px;margin-left:-100px;">4650</div>
<div class="t d" style="left:512.62px;top:670.20px;width:200px;margin-left:-100px;">70</div>
<div class="t d" style="left:571.88px;top:670.20px;width:200px;margin-left:-100px;">130</div>
<div class="t d" style="left:631.12px;top:670.20px;width:200px;margin-left:-100px;">82</div>
<div class="t d" style="left:690.38px;top:670.20px;width:200px;margin-left:-100px;">53.5</div>
<div class="t d" style="left:749.62px;top:670.20px;width:200px;margin-left:-100px;">103</div>
<div class="t d" style="left:808.88px;top:670.20px;width:200px;margin-left:-100px;">74.5</div>
<div class="t d" style="left:868.12px;top:670.20px;width:200px;margin-left:-100px;">25</div>
<div class="t d" style="left:927.38px;top:670.20px;width:200px;margin-left:-100px;">115</div>
<div class="t d" style="left:46.50px;top:697.00px;width:200px;margin-left:-100px;">75</div>
<div class="t d" style="left:144.35px;top:697.00px;width:200px;margin-left:-100px;">ZARN 75155TN</div>
<div class="t d" style="left:250.35px;top:697.00px;width:200px;margin-left:-100px;">7900</div>
<div class="t d" style="left:212.7px;top:697.00px;width:200px;text-align:right">ZARN 75155LTN</div>
<div class="t d" style="left:453.20px;top:697.00px;width:200px;margin-left:-100px;">9100</div>
<div class="t d" style="left:512.62px;top:697.00px;width:200px;margin-left:-100px;">75</div>
<div class="t d" style="left:571.88px;top:697.00px;width:200px;margin-left:-100px;">155</div>
<div class="t d" style="left:631.12px;top:697.00px;width:200px;margin-left:-100px;">100</div>
<div class="t d" style="left:690.38px;top:697.00px;width:200px;margin-left:-100px;">65.0</div>
<div class="t d" style="left:749.62px;top:697.00px;width:200px;margin-left:-100px;">125</div>
<div class="t d" style="left:808.88px;top:697.00px;width:200px;margin-left:-100px;">90.0</div>
<div class="t d" style="left:868.12px;top:697.00px;width:200px;margin-left:-100px;">30</div>
<div class="t d" style="left:927.38px;top:697.00px;width:200px;margin-left:-100px;">135</div>
<div class="t d" style="left:46.50px;top:723.80px;width:200px;margin-left:-100px;">90</div>
<div class="t d" style="left:144.35px;top:723.80px;width:200px;margin-left:-100px;">ZARN 90180TN</div>
<div class="t d" style="left:250.35px;top:723.80px;width:200px;margin-left:-100px;">11800</div>
<div class="t d" style="left:212.7px;top:723.80px;width:200px;text-align:right">ZARN 90180LTN</div>
<div class="t d" style="left:453.20px;top:723.80px;width:200px;margin-left:-100px;">13200</div>
<div class="t d" style="left:512.62px;top:723.80px;width:200px;margin-left:-100px;">90</div>
<div class="t d" style="left:571.88px;top:723.80px;width:200px;margin-left:-100px;">180</div>
<div class="t d" style="left:631.12px;top:723.80px;width:200px;margin-left:-100px;">110</div>
<div class="t d" style="left:690.38px;top:723.80px;width:200px;margin-left:-100px;">72.5</div>
<div class="t d" style="left:749.62px;top:723.80px;width:200px;margin-left:-100px;">135</div>
<div class="t d" style="left:808.88px;top:723.80px;width:200px;margin-left:-100px;">97.5</div>
<div class="t d" style="left:868.12px;top:723.80px;width:200px;margin-left:-100px;">35</div>
<div class="t d" style="left:927.38px;top:723.80px;width:200px;margin-left:-100px;">160</div>
<div class="t" style="left:4.00px;top:753.50px;font-size:18px;letter-spacing:-2px;color:#3a3a3a;transform:scaleY(0.86);transform-origin:0 9px"><span style="font-size:17.5px;letter-spacing:0;display:inline-block;transform:scaleY(1.163);transform-origin:0 12px">1</span>、表中所列基本额定载荷、极限转速和重量，</div>
<div class="t" style="left:335.40px;top:753.50px;font-size:18px;letter-spacing:-2px;color:#3a3a3a;transform:scaleY(0.86);transform-origin:0 9px">仅供选择参考用。</div>
<div class="t" style="left:4.00px;top:777.00px;font-size:18px;letter-spacing:-2px;color:#3a3a3a;transform:scaleY(0.86);transform-origin:0 9px"><span style="font-size:17.5px;letter-spacing:0;display:inline-block;transform:scaleY(1.163);transform-origin:0 12px">2</span>、轴承的保持架如有塑料制成，在型号后加</div>
<div class="t" style="left:319.60px;top:777.00px;font-size:18px;letter-spacing:-2px;color:#3a3a3a;transform:scaleY(0.86);transform-origin:0 9px"><span style="font-size:17.5px;letter-spacing:0;display:inline-block;transform:scaleY(1.163);transform-origin:0 12px">TN</span></div>
<div class="t" style="left:343.30px;top:777.00px;font-size:18px;letter-spacing:-2px;color:#3a3a3a;transform:scaleY(0.86);transform-origin:0 9px">，允许工作温度：</div>
<div class="t" style="left:474.00px;top:777.00px;font-size:18px;letter-spacing:-2px;color:#3a3a3a;transform:scaleY(0.86);transform-origin:0 9px"><span style="font-size:17.5px;letter-spacing:0;display:inline-block;transform:scaleY(1.163);transform-origin:0 12px">120</span></div>
<div class="t" style="left:501.80px;top:777.00px;font-size:18px;letter-spacing:-2px;color:#3a3a3a;transform:scaleY(0.86);transform-origin:0 9px">℃连续，</div>
<div class="t" style="left:567.80px;top:777.00px;font-size:18px;letter-spacing:-2px;color:#3a3a3a;transform:scaleY(0.86);transform-origin:0 9px"><span style="font-size:17.5px;letter-spacing:0;display:inline-block;transform:scaleY(1.163);transform-origin:0 12px">180</span></div>
<div class="t" style="left:596.80px;top:777.00px;font-size:18px;letter-spacing:-2px;color:#3a3a3a;transform:scaleY(0.86);transform-origin:0 9px">℃短期。</div>
</body></html>
